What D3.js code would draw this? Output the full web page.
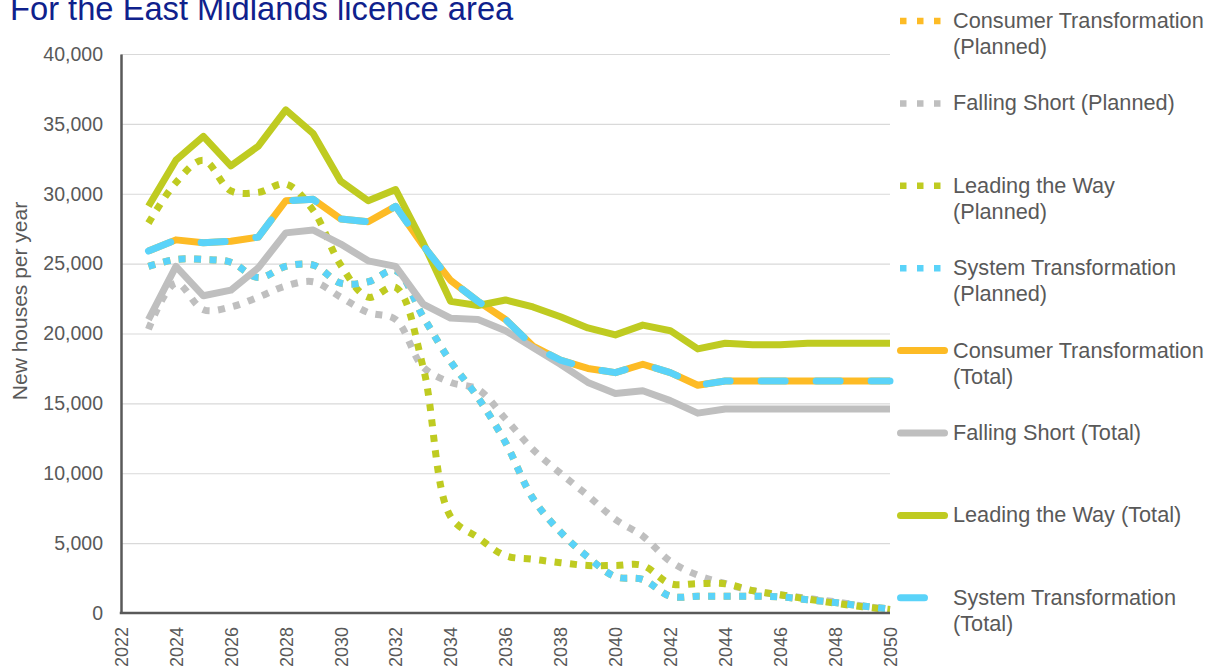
<!DOCTYPE html>
<html>
<head>
<meta charset="utf-8">
<script src="https://cdn.jsdelivr.net/npm/d3@7"></script>
<style>
  body { margin: 0; background: #fff; }
  svg text { font-family: "Liberation Sans", Arial, sans-serif; }
</style>
</head>
<body>
<svg id="chart" width="1214" height="669"></svg>
<script>
var years = [2023, 2024, 2025, 2026, 2027, 2028, 2029, 2030, 2031, 2032, 2033, 2034, 2035, 2036,
             2037, 2038, 2039, 2040, 2041, 2042, 2043, 2044, 2045, 2046, 2047, 2048, 2049, 2050];
var xTicks = [2022, 2024, 2026, 2028, 2030, 2032, 2034, 2036, 2038, 2040, 2042, 2044, 2046, 2048, 2050];
var yTicks = [0, 5000, 10000, 15000, 20000, 25000, 30000, 35000, 40000];

// planned new houses per year
var ctPlanned  = [24800, 25300, 25300, 25100, 24000, 24800, 24900, 23600, 23700, 24500, 21200, 18000, 15400, 12200,
                  8200, 5800, 4000, 2600, 2400, 1200, 1200, 1200, 1200, 1150, 950, 750, 500, 280];
var fsPlanned  = [20300, 23600, 21700, 21900, 22600, 23400, 23700, 22600, 21500, 21000, 17600, 16500, 16000, 13900,
                  11700, 10000, 8400, 6700, 5500, 3700, 2700, 2100, 1600, 1300, 1050, 800, 500, 260];
var ltwPlanned = [27900, 30800, 32400, 30200, 30100, 30700, 28800, 24900, 22600, 23300, 17600, 6900, 5400, 4100,
                  3850, 3600, 3400, 3400, 3400, 2100, 2100, 2100, 1600, 1300, 1000, 700, 450, 250];
var stPlanned  = [24800, 25300, 25300, 25100, 24000, 24800, 24900, 23600, 23700, 24500, 21200, 18000, 15400, 12200,
                  8200, 5800, 4000, 2600, 2400, 1200, 1200, 1200, 1200, 1150, 950, 750, 500, 280];

// total new houses per year
var ctTotal  = [25900, 26700, 26500, 26600, 26900, 29500, 29600, 28200, 28000, 29100, 26300, 23800, 22300, 21000,
                19100, 18100, 17500, 17200, 17800, 17200, 16300, 16600, 16600, 16600, 16600, 16600, 16600, 16600];
var fsTotal  = [21000, 24800, 22700, 23100, 24700, 27200, 27400, 26400, 25200, 24800, 22100, 21100, 21000, 20200,
                19000, 17800, 16500, 15700, 15900, 15200, 14300, 14600, 14600, 14600, 14600, 14600, 14600, 14600];
var ltwTotal = [29100, 32400, 34100, 32000, 33400, 36000, 34300, 30900, 29500, 30300, 26500, 22300, 22000, 22400,
                21900, 21200, 20400, 19900, 20600, 20200, 18900, 19300, 19200, 19200, 19300, 19300, 19300, 19300];
var stTotal  = [25900, 26700, 26500, 26600, 26900, 29500, 29600, 28200, 28000, 29100, 26300, 23800, 22300, 21000,
                19100, 18100, 17500, 17200, 17800, 17200, 16300, 16600, 16600, 16600, 16600, 16600, 16600, 16600];

var seriesNames = [["Consumer Transformation", "(Planned)"], ["Falling Short (Planned)"],
                   ["Leading the Way", "(Planned)"], ["System Transformation", "(Planned)"],
                   ["Consumer Transformation", "(Total)"], ["Falling Short (Total)"],
                   ["Leading the Way (Total)"], ["System Transformation", "(Total)"]];

var orange = "#fdbb25", grey = "#bfbfbf", green = "#bfcb21", blue = "#5ad3f9";
var textColor = "#595959";

var series = [
  {name: seriesNames[0], values: ctPlanned,  color: orange, kind: "dot"},
  {name: seriesNames[1], values: fsPlanned,  color: grey,   kind: "dot"},
  {name: seriesNames[2], values: ltwPlanned, color: green,  kind: "dot"},
  {name: seriesNames[3], values: stPlanned,  color: blue,   kind: "dot"},
  {name: seriesNames[4], values: ctTotal,    color: orange, kind: "solid"},
  {name: seriesNames[5], values: fsTotal,    color: grey,   kind: "solid"},
  {name: seriesNames[6], values: ltwTotal,   color: green,  kind: "solid"},
  {name: seriesNames[7], values: stTotal,    color: blue,   kind: "dash"}
];

var svg = d3.select("#chart");
var plotLeft = 121, plotRight = 890, plotTop = 54, plotBottom = 613;

var x = d3.scaleLinear().domain([2022, 2050]).range([plotLeft, plotRight]);
var y = d3.scaleLinear().domain([0, 40000]).range([plotBottom, plotTop]);

// title
svg.append("text")
    .attr("x", 10)
    .attr("y", 20)
    .attr("font-size", "32.7px")
    .attr("fill", "#0f218c")
    .text("For the East Midlands licence area");

// gridlines
var grid = svg.append("g")
    .attr("transform", "translate(" + plotLeft + ",0)")
    .call(d3.axisLeft(y).tickValues(yTicks).tickSize(-(plotRight - plotLeft)).tickFormat(""));
grid.select(".domain").remove();
grid.selectAll("line").attr("stroke", "#d9d9d9").attr("stroke-width", 1.2);

// lines
var lineStraight = d3.line()
    .x(function(d, i) { return x(years[i]); })
    .y(function(d) { return y(d); });
var lineSmooth = d3.line()
    .x(function(d, i) { return x(years[i]); })
    .y(function(d) { return y(d); })
    .curve(d3.curveCatmullRom.alpha(0.5));

series.forEach(function(s) {
  var p = svg.append("path")
      .datum(s.values)
      .attr("fill", "none")
      .attr("stroke", s.color)
      .attr("stroke-width", 7);
  if (s.kind == "dot") {
    p.attr("d", lineSmooth).attr("stroke-dasharray", "7,8.5");
  } else if (s.kind == "dash") {
    p.attr("d", lineStraight)
     .attr("stroke-dasharray", "24,31")
     .attr("stroke-linecap", "round")
     .attr("stroke-linejoin", "round");
  } else {
    p.attr("d", lineStraight).attr("stroke-linejoin", "round");
  }
});

// y axis
var yAxis = svg.append("g")
    .attr("transform", "translate(" + plotLeft + ",0)")
    .call(d3.axisLeft(y).tickValues(yTicks).tickSize(0).tickSizeOuter(0).tickPadding(18)
          .tickFormat(d3.format(",")));
yAxis.select(".domain").attr("stroke", textColor).attr("stroke-width", 2.5);
yAxis.selectAll("text")
    .attr("font-size", "19.5px")
    .attr("font-family", "Liberation Sans, Arial, sans-serif")
    .attr("fill", textColor);

// x axis
var xAxis = svg.append("g")
    .attr("transform", "translate(0," + plotBottom + ")")
    .call(d3.axisBottom(x).tickValues(xTicks).tickSize(0).tickSizeOuter(0).tickFormat(d3.format("d")));
xAxis.select(".domain").attr("stroke", textColor).attr("stroke-width", 2.5)
    .attr("d", "M" + (plotLeft - 1.25) + ",0H" + plotRight);
xAxis.selectAll("text")
    .attr("transform", "rotate(-90)")
    .attr("x", -14)
    .attr("y", 0)
    .attr("dy", "0.35em")
    .style("text-anchor", "end")
    .attr("font-size", "18px")
    .attr("font-family", "Liberation Sans, Arial, sans-serif")
    .attr("fill", textColor);

// y axis title
svg.append("text")
    .attr("transform", "translate(27,301) rotate(-90)")
    .attr("text-anchor", "middle")
    .attr("font-size", "21px")
    .attr("fill", textColor)
    .text("New houses per year");

// legend
var legend = svg.append("g")
  .selectAll("g")
  .data(series)
  .enter().append("g")
    .attr("transform", function(d, i) { return "translate(0," + (21 + i * 82.4) + ")"; });

legend.each(function(d) {
  var g = d3.select(this);
  if (d.kind == "dot") {
    g.append("line")
        .attr("x1", 900).attr("x2", 941).attr("y1", 0).attr("y2", 0)
        .attr("stroke", d.color).attr("stroke-width", 6.5)
        .attr("stroke-dasharray", "6.5,10.5");
  } else if (d.kind == "dash") {
    g.append("line")
        .attr("x1", 900.5).attr("x2", 924.5).attr("y1", 0).attr("y2", 0)
        .attr("stroke", d.color).attr("stroke-width", 7)
        .attr("stroke-linecap", "round");
  } else {
    g.append("line")
        .attr("x1", 900.5).attr("x2", 944.5).attr("y1", 0).attr("y2", 0)
        .attr("stroke", d.color).attr("stroke-width", 7)
        .attr("stroke-linecap", "round");
  }
  g.selectAll("text.lbl")
    .data(d.name)
    .enter().append("text")
      .attr("class", "lbl")
      .attr("x", 953)
      .attr("y", function(t, j) { return 7 + j * 26; })
      .attr("font-size", "21.7px")
      .attr("fill", textColor)
      .text(function(t) { return t; });
});
</script>
</body>
</html>
